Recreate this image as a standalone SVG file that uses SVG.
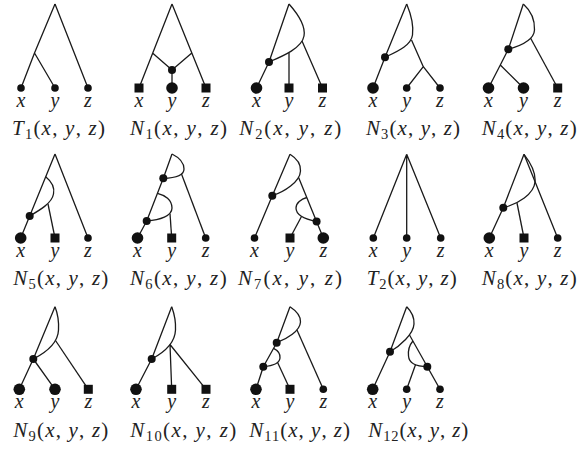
<svg xmlns="http://www.w3.org/2000/svg" width="578" height="452" viewBox="0 0 578 452">
<style>
.e{fill:none;stroke:#1a1a1a;stroke-width:1.3;stroke-linejoin:round}
.d{fill:#111}
.s{fill:#111}
.l{font-family:"Liberation Serif","Times New Roman",serif;font-style:italic;font-size:20px;fill:#222;text-anchor:middle}
.c{font-family:"Liberation Serif","Times New Roman",serif;font-size:21px;fill:#222;text-anchor:middle}
.i{font-style:italic}
.sub{font-size:14.5px}
</style>
<rect width="578" height="452" fill="#fff"/>

<!-- T1 -->
<g id="T1">
<g class="connectors">
<path class="e" d="M55,4 L34.5,53 L21,88 M34.5,53 L55,88 M55,4 L88,88"/>
</g>
<g id="T1-x"><circle class="s" cx="21" cy="88" r="3.8"/><text class="l" x="21" y="107">x</text></g>
<g id="T1-y"><circle class="s" cx="55" cy="88" r="3.8"/><text class="l" x="55" y="107">y</text></g>
<g id="T1-z"><circle class="s" cx="88" cy="88" r="3.8"/><text class="l" x="88" y="107">z</text></g>
<text class="c" x="58.5" y="135" textLength="93"><tspan class="i">T</tspan><tspan class="sub" dy="4">1</tspan><tspan dy="-4">(</tspan><tspan class="i">x</tspan>, <tspan class="i">y</tspan>, <tspan class="i">z</tspan>)</text>
</g>

<!-- N1 -->
<g id="N1">
<g class="connectors">
<path class="e" d="M172,4 L139,88 M172,4 L206,88 M152.5,53 L172,70 L191.8,53 M172,70 L172,88"/>
</g>
<g id="N1-h"><circle class="d" cx="172" cy="70" r="4"/></g>
<g id="N1-x"><rect class="s" x="134.5" y="83.5" width="9" height="9"/><text class="l" x="139" y="107">x</text></g>
<g id="N1-y"><circle class="s" cx="172" cy="88" r="5.8"/><text class="l" x="172" y="107">y</text></g>
<g id="N1-z"><rect class="s" x="201.5" y="83.5" width="9" height="9"/><text class="l" x="206" y="107">z</text></g>
<text class="c" x="178.5" y="135" textLength="97"><tspan class="i">N</tspan><tspan class="sub" dy="4">1</tspan><tspan dy="-4">(</tspan><tspan class="i">x</tspan>, <tspan class="i">y</tspan>, <tspan class="i">z</tspan>)</text>
</g>

<!-- N2 -->
<g id="N2">
<g class="connectors">
<path class="e" d="M289,4 L269,62 L256.5,88"/>
<path class="e" d="M289,4 C297,13 306,25 304,36 C302,48 283,56 269,62"/>
<path class="e" d="M302,41 L322.5,88 M289,53 L289,88"/>
</g>
<g id="N2-h"><circle class="d" cx="269" cy="62" r="4"/></g>
<g id="N2-x"><circle class="s" cx="256.5" cy="88" r="5.8"/><text class="l" x="256.5" y="107">x</text></g>
<g id="N2-y"><rect class="s" x="284.5" y="83.5" width="9" height="9"/><text class="l" x="289" y="107">y</text></g>
<g id="N2-z"><rect class="s" x="318" y="83.5" width="9" height="9"/><text class="l" x="322.5" y="107">z</text></g>
<text class="c" x="290.3" y="135" textLength="102"><tspan class="i">N</tspan><tspan class="sub" dy="4">2</tspan><tspan dy="-4">(</tspan><tspan class="i">x</tspan>, <tspan class="i">y</tspan>, <tspan class="i">z</tspan>)</text>
</g>

<!-- N3 -->
<g id="N3">
<g class="connectors">
<path class="e" d="M406.7,4 L385,57.3 L373,88"/>
<path class="e" d="M406.7,4 C410,12 414,24 412.5,35 C411,46 396,52 385,57.3"/>
<path class="e" d="M411.5,40 L423.3,66.7 L406.7,88 M423.3,66.7 L440,88"/>
</g>
<g id="N3-h"><circle class="d" cx="385" cy="57.3" r="4"/></g>
<g id="N3-x"><circle class="s" cx="373" cy="88" r="5.8"/><text class="l" x="373" y="107">x</text></g>
<g id="N3-y"><circle class="s" cx="406.7" cy="88" r="3.8"/><text class="l" x="406.7" y="107">y</text></g>
<g id="N3-z"><circle class="s" cx="440" cy="88" r="3.8"/><text class="l" x="440" y="107">z</text></g>
<text class="c" x="413" y="135" textLength="94"><tspan class="i">N</tspan><tspan class="sub" dy="4">3</tspan><tspan dy="-4">(</tspan><tspan class="i">x</tspan>, <tspan class="i">y</tspan>, <tspan class="i">z</tspan>)</text>
</g>

<!-- N4 -->
<g id="N4">
<g class="connectors">
<path class="e" d="M523.3,4 L508.3,49.3 L500.3,65 L488.5,88 M500.3,65 L523.5,88"/>
<path class="e" d="M523.3,4 C530,10 535,18 534.5,30 C534,40 520,46 508.3,49.3"/>
<path class="e" d="M530.5,38 L557.7,88"/>
</g>
<g id="N4-h"><circle class="d" cx="508.3" cy="49.3" r="4"/></g>
<g id="N4-x"><circle class="s" cx="488.5" cy="88" r="5.8"/><text class="l" x="488.5" y="107">x</text></g>
<g id="N4-y"><circle class="s" cx="523.5" cy="88" r="5.8"/><text class="l" x="523.5" y="107">y</text></g>
<g id="N4-z"><rect class="s" x="553.2" y="83.5" width="9" height="9"/><text class="l" x="557.7" y="107">z</text></g>
<text class="c" x="529.2" y="135" textLength="95"><tspan class="i">N</tspan><tspan class="sub" dy="4">4</tspan><tspan dy="-4">(</tspan><tspan class="i">x</tspan>, <tspan class="i">y</tspan>, <tspan class="i">z</tspan>)</text>
</g>

<!-- N5 -->
<g id="N5">
<g class="connectors">
<path class="e" d="M55,154 L29.7,216 L20.7,238 M55,154 L88,238"/>
<path class="e" d="M45.7,176.7 C51,181 55,187 53.5,194 C52,203 40,210 29.7,216"/>
<path class="e" d="M48,204 L55,238"/>
</g>
<g id="N5-h"><circle class="d" cx="29.7" cy="216" r="4"/></g>
<g id="N5-x"><circle class="s" cx="20.7" cy="238" r="5.8"/><text class="l" x="20.7" y="257">x</text></g>
<g id="N5-y"><rect class="s" x="50.5" y="233.5" width="9" height="9"/><text class="l" x="55" y="257">y</text></g>
<g id="N5-z"><circle class="s" cx="88" cy="238" r="3.8"/><text class="l" x="88" y="257">z</text></g>
<text class="c" x="60.8" y="285" textLength="95"><tspan class="i">N</tspan><tspan class="sub" dy="4">5</tspan><tspan dy="-4">(</tspan><tspan class="i">x</tspan>, <tspan class="i">y</tspan>, <tspan class="i">z</tspan>)</text>
</g>

<!-- N6 -->
<g id="N6">
<g class="connectors">
<path class="e" d="M172,154 L163.3,178.3 L146.7,221 L137.5,238"/>
<path class="e" d="M172,154 C178,157 184,162 184,169 C184,176 174,178 163.3,178.3"/>
<path class="e" d="M181.5,174 L205.7,238"/>
<path class="e" d="M157.5,193.3 C165,195 172,200 172,208 C172,216 160,220 146.7,221"/>
<path class="e" d="M170,213.5 L171.7,238"/>
</g>
<g id="N6-h1"><circle class="d" cx="163.3" cy="178.3" r="4"/></g>
<g id="N6-h2"><circle class="d" cx="146.7" cy="221" r="4"/></g>
<g id="N6-x"><circle class="s" cx="137.5" cy="238" r="5.8"/><text class="l" x="137.5" y="257">x</text></g>
<g id="N6-y"><rect class="s" x="167.2" y="233.5" width="9" height="9"/><text class="l" x="171.7" y="257">y</text></g>
<g id="N6-z"><circle class="s" cx="205.7" cy="238" r="3.8"/><text class="l" x="205.7" y="257">z</text></g>
<text class="c" x="178.3" y="285" textLength="96.7"><tspan class="i">N</tspan><tspan class="sub" dy="4">6</tspan><tspan dy="-4">(</tspan><tspan class="i">x</tspan>, <tspan class="i">y</tspan>, <tspan class="i">z</tspan>)</text>
</g>

<!-- N7 -->
<g id="N7">
<g class="connectors">
<path class="e" d="M290,154.3 L272.3,195.7 L254.5,238"/>
<path class="e" d="M290,154.3 C296,158 301,163 300.5,171 C300,182 284,192 272.3,195.7"/>
<path class="e" d="M298.6,177.5 L323.3,238"/>
<path class="e" d="M306.8,197.5 C301,199 296,203 296,208 C296,215 304,219 316.6,221.5"/>
<path class="e" d="M301.5,216.5 L290,238"/>
</g>
<g id="N7-h1"><circle class="d" cx="272.3" cy="195.7" r="4"/></g>
<g id="N7-h2"><circle class="d" cx="316.6" cy="221.5" r="4"/></g>
<g id="N7-x"><circle class="s" cx="254.5" cy="238" r="3.8"/><text class="l" x="254.5" y="257">x</text></g>
<g id="N7-y"><rect class="s" x="285.5" y="233.5" width="9" height="9"/><text class="l" x="290" y="257">y</text></g>
<g id="N7-z"><circle class="s" cx="323.3" cy="238" r="5.8"/><text class="l" x="323.3" y="257">z</text></g>
<text class="c" x="290" y="285" textLength="104"><tspan class="i">N</tspan><tspan class="sub" dy="4">7</tspan><tspan dy="-4">(</tspan><tspan class="i">x</tspan>, <tspan class="i">y</tspan>, <tspan class="i">z</tspan>)</text>
</g>

<!-- T2 -->
<g id="T2">
<g class="connectors">
<path class="e" d="M406.7,154.3 L373.3,238 M406.7,154.3 L406.7,238 M406.7,154.3 L440.7,238"/>
</g>
<g id="T2-x"><circle class="s" cx="373.3" cy="238" r="3.8"/><text class="l" x="373.3" y="257">x</text></g>
<g id="T2-y"><circle class="s" cx="406.7" cy="238" r="3.8"/><text class="l" x="406.7" y="257">y</text></g>
<g id="T2-z"><circle class="s" cx="440.7" cy="238" r="3.8"/><text class="l" x="440.7" y="257">z</text></g>
<text class="c" x="411.7" y="285" textLength="90"><tspan class="i">T</tspan><tspan class="sub" dy="4">2</tspan><tspan dy="-4">(</tspan><tspan class="i">x</tspan>, <tspan class="i">y</tspan>, <tspan class="i">z</tspan>)</text>
</g>

<!-- N8 -->
<g id="N8">
<g class="connectors">
<path class="e" d="M524,154.3 L503.3,207.7 L489.3,238 M524,154.3 L557.7,238"/>
<path class="e" d="M524,154.3 C530,162 536,172 535,182 C534,194 518,204 503.3,207.7"/>
<path class="e" d="M517,203 L524,238"/>
</g>
<g id="N8-h"><circle class="d" cx="503.3" cy="207.7" r="4"/></g>
<g id="N8-x"><circle class="s" cx="489.3" cy="238" r="5.8"/><text class="l" x="489.3" y="257">x</text></g>
<g id="N8-y"><rect class="s" x="519.5" y="233.5" width="9" height="9"/><text class="l" x="524" y="257">y</text></g>
<g id="N8-z"><circle class="s" cx="557.7" cy="238" r="3.8"/><text class="l" x="557.7" y="257">z</text></g>
<text class="c" x="529.2" y="285" textLength="95"><tspan class="i">N</tspan><tspan class="sub" dy="4">8</tspan><tspan dy="-4">(</tspan><tspan class="i">x</tspan>, <tspan class="i">y</tspan>, <tspan class="i">z</tspan>)</text>
</g>

<!-- N9 -->
<g id="N9">
<g class="connectors">
<path class="e" d="M55,306.7 L33.3,359 L19.3,389.3 M33.3,359 L55,389.3"/>
<path class="e" d="M55,306.7 C57.5,313 59,321 58.5,330 C58,343 45,353 33.3,359"/>
<path class="e" d="M55.5,340.5 L88.3,389.3"/>
</g>
<g id="N9-h"><circle class="d" cx="33.3" cy="359" r="4"/></g>
<g id="N9-x"><circle class="s" cx="19.3" cy="389.3" r="5.8"/><text class="l" x="19.3" y="408">x</text></g>
<g id="N9-y"><circle class="s" cx="55" cy="389.3" r="5.8"/><text class="l" x="55" y="408">y</text></g>
<g id="N9-z"><rect class="s" x="83.8" y="384.8" width="9" height="9"/><text class="l" x="88.3" y="408">z</text></g>
<text class="c" x="60.8" y="437" textLength="95"><tspan class="i">N</tspan><tspan class="sub" dy="4">9</tspan><tspan dy="-4">(</tspan><tspan class="i">x</tspan>, <tspan class="i">y</tspan>, <tspan class="i">z</tspan>)</text>
</g>

<!-- N10 -->
<g id="N10">
<g class="connectors">
<path class="e" d="M171.7,306.7 L151.7,359 L136,389.3"/>
<path class="e" d="M171.7,306.7 C174,313 176,321 175.5,330 C175,343 163,353 151.7,359"/>
<path class="e" d="M170,344.5 L171.7,389.3 M170,344.5 L206,389.3"/>
</g>
<g id="N10-h"><circle class="d" cx="151.7" cy="359" r="4"/></g>
<g id="N10-x"><circle class="s" cx="136" cy="389.3" r="5.8"/><text class="l" x="136" y="408">x</text></g>
<g id="N10-y"><rect class="s" x="167.2" y="384.8" width="9" height="9"/><text class="l" x="171.7" y="408">y</text></g>
<g id="N10-z"><rect class="s" x="201.5" y="384.8" width="9" height="9"/><text class="l" x="206" y="408">z</text></g>
<text class="c" x="183.3" y="437" textLength="106"><tspan class="i">N</tspan><tspan class="sub" dy="4">10</tspan><tspan dy="-4">(</tspan><tspan class="i">x</tspan>, <tspan class="i">y</tspan>, <tspan class="i">z</tspan>)</text>
</g>

<!-- N11 -->
<g id="N11">
<g class="connectors">
<path class="e" d="M290,306.7 L276.7,342.7 L263.3,366.7 L256,389.3"/>
<path class="e" d="M290,306.7 C295,310 301,315 300.5,322 C300,331 287,339 276.7,342.7"/>
<path class="e" d="M297,330 L323.3,389.3"/>
<path class="e" d="M273.6,348.3 C277,350 280.5,353 280,358 C279.5,364 271,366 263.3,366.7"/>
<path class="e" d="M277.6,362.5 L290,389.3"/>
</g>
<g id="N11-h1"><circle class="d" cx="276.7" cy="342.7" r="4"/></g>
<g id="N11-h2"><circle class="d" cx="263.3" cy="366.7" r="4"/></g>
<g id="N11-x"><circle class="s" cx="256" cy="389.3" r="5.8"/><text class="l" x="256" y="408">x</text></g>
<g id="N11-y"><rect class="s" x="285.5" y="384.8" width="9" height="9"/><text class="l" x="290" y="408">y</text></g>
<g id="N11-z"><circle class="s" cx="323.3" cy="389.3" r="3.8"/><text class="l" x="323.3" y="408">z</text></g>
<text class="c" x="299.7" y="437" textLength="100.7"><tspan class="i">N</tspan><tspan class="sub" dy="4">11</tspan><tspan dy="-4">(</tspan><tspan class="i">x</tspan>, <tspan class="i">y</tspan>, <tspan class="i">z</tspan>)</text>
</g>

<!-- N12 -->
<g id="N12">
<g class="connectors">
<path class="e" d="M406.7,306.7 L390,351.7 L372.7,389.3"/>
<path class="e" d="M406.7,306.7 C411,311 414.5,316 414,324 C413.5,334 400,346 390,351.7"/>
<path class="e" d="M409.5,335 L440,389.3"/>
<path class="e" d="M412.9,341 C409.5,345 408,351 408.5,356 C409,363 416,366.5 427.3,366.7"/>
<path class="e" d="M415.5,364.8 L406.7,389.3"/>
</g>
<g id="N12-h1"><circle class="d" cx="390" cy="351.7" r="4"/></g>
<g id="N12-h2"><circle class="d" cx="427.3" cy="366.7" r="4"/></g>
<g id="N12-x"><circle class="s" cx="372.7" cy="389.3" r="5.8"/><text class="l" x="372.7" y="408">x</text></g>
<g id="N12-y"><circle class="s" cx="406.7" cy="389.3" r="3.8"/><text class="l" x="406.7" y="408">y</text></g>
<g id="N12-z"><circle class="s" cx="440" cy="389.3" r="3.8"/><text class="l" x="440" y="408">z</text></g>
<text class="c" x="418.3" y="437" textLength="100"><tspan class="i">N</tspan><tspan class="sub" dy="4">12</tspan><tspan dy="-4">(</tspan><tspan class="i">x</tspan>, <tspan class="i">y</tspan>, <tspan class="i">z</tspan>)</text>
</g>
</svg>
